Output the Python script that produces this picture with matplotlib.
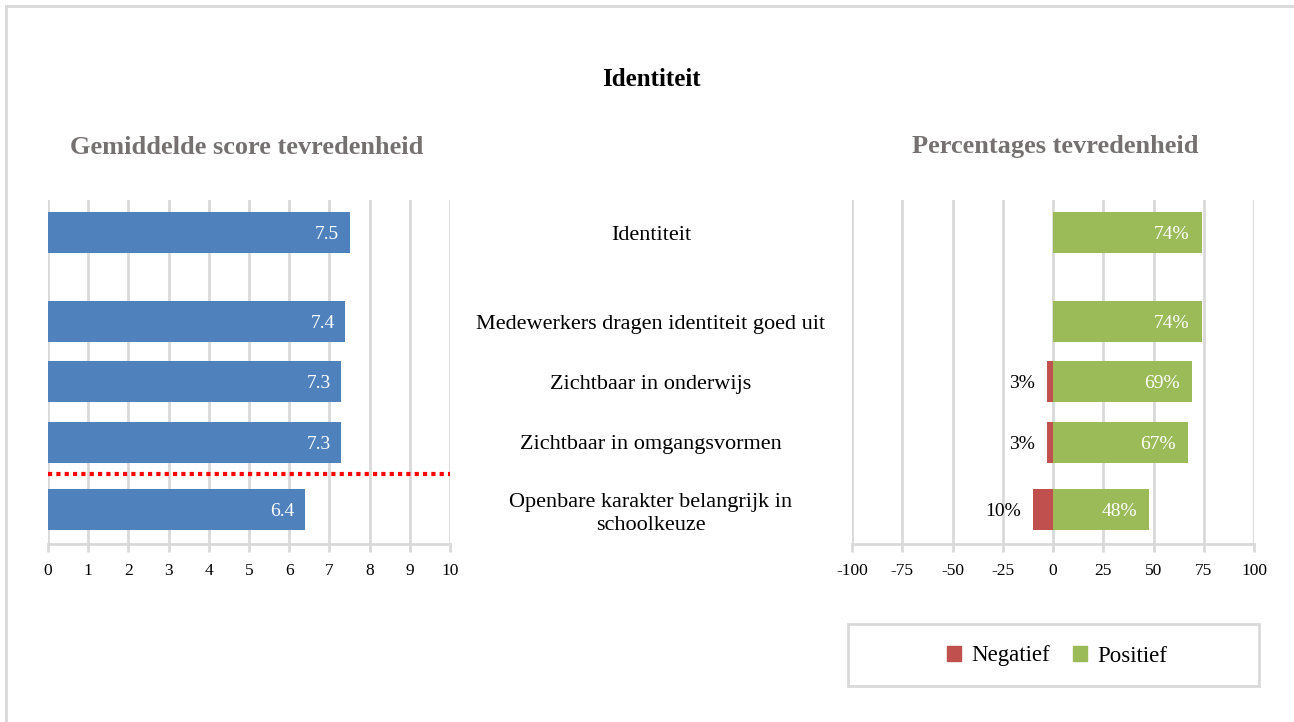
import matplotlib
matplotlib.use("Agg")
import matplotlib.pyplot as plt
from matplotlib.lines import Line2D
from matplotlib.patches import Patch, Rectangle
import matplotlib.transforms as mtransforms

plt.rcParams['font.family'] = ['Liberation Serif', 'DejaVu Serif']

# data
categories = ["Identiteit",
              "Medewerkers dragen identiteit goed uit",
              "Zichtbaar in onderwijs",
              "Zichtbaar in omgangsvormen",
              "Openbare karakter belangrijk in\nschoolkeuze"]
scores = [7.5, 7.4, 7.3, 7.3, 6.4]
score_labels = ["7.5", "7.4", "7.3", "7.3", "6.4"]
positief = [74, 74, 69, 67, 48]
negatief = [0, 0, 3, 3, 10]
score_ticks = list(range(0, 11))
pct_ticks = [-100, -75, -50, -25, 0, 25, 50, 75, 100]
pct_ticklabels = ["-100", "-75", "-50", "-25", "0", "25", "50", "75", "100"]

# layout (row centres in pixel units of the axes)
row_pos = [232.5, 321.5, 381.5, 442.5, 509.5]
bar_h = 41
ref_line_y = 474

blue = "#4f81bd"
green = "#9bbb59"
red = "#c0504d"
grid_c = "#d9d9d9"

W, H = 1294, 722
fig = plt.figure(figsize=(W / 100, H / 100), dpi=100)


def fx(px):
    return px / W


def fy(py):
    return 1 - py / H


ax1 = fig.add_axes([fx(48), fy(544), fx(402), 344 / H])
ax2 = fig.add_axes([fx(852), fy(544), fx(402), 344 / H])

for ax in (ax1, ax2):
    ax.set_ylim(544, 200)
    for s in ax.spines.values():
        s.set_visible(False)
    ax.spines['bottom'].set_visible(True)
    ax.spines['bottom'].set_color(grid_c)
    ax.spines['bottom'].set_linewidth(2)
    ax.set_yticks([])
    ax.tick_params(axis='x', length=6, width=2, color=grid_c, pad=8,
                   labelsize=12.5, labelcolor='black')
    ax.grid(axis='x', color=grid_c, linewidth=2)
    ax.set_axisbelow(True)

# left chart: gemiddelde scores
ax1.set_xlim(0, 10)
ax1.set_xticks(score_ticks)
ax1.barh(row_pos, scores, height=bar_h, color=blue, zorder=3)
for y, v, lab in zip(row_pos, scores, score_labels):
    ax1.text(v - 0.27, y, lab, color='white', fontsize=14,
             ha='right', va='center_baseline', zorder=4)
ax1.plot([0, 10], [ref_line_y, ref_line_y], color='red', linestyle=(0, (1, 1)),
         linewidth=3, zorder=5, clip_on=False)

# right chart: percentages
ax2.set_xlim(-100, 100)
ax2.set_xticks(pct_ticks)
ax2.set_xticklabels(pct_ticklabels)
neg_vals = [-n for n in negatief]
ax2.barh(row_pos, neg_vals, height=bar_h, color=red, zorder=3)
ax2.barh(row_pos, positief, height=bar_h, color=green, zorder=3)
for y, p, n in zip(row_pos, positief, negatief):
    ax2.text(p - 6, y, f"{p}%", color='white', fontsize=14,
             ha='right', va='center_baseline', zorder=4)
    if n > 0:
        ax2.text(-n - 6, y, f"{n}%", color='black', fontsize=14,
                 ha='right', va='center_baseline', zorder=4)

# category labels in the middle
trans = mtransforms.blended_transform_factory(fig.transFigure, ax1.transData)
for y, c in zip(row_pos, categories):
    ax1.text(fx(651), y, c, transform=trans, ha='center', va='center_baseline',
             fontsize=16, linespacing=1.3, clip_on=False)

# titles
fig.text(fx(651), fy(80), "Identiteit", ha='center', va='center',
         fontsize=18, fontweight='bold')
fig.text(fx(247), fy(147), "Gemiddelde score tevredenheid", ha='center',
         va='center', fontsize=19, fontweight='bold', color='#767171')
fig.text(fx(1055), fy(147), "Percentages tevredenheid", ha='center',
         va='center', fontsize=19, fontweight='bold', color='#767171')

# legend with its own box
fig.add_artist(Rectangle((fx(848), fy(686)), fx(411), 62 / H,
                         transform=fig.transFigure, facecolor='none',
                         edgecolor=grid_c, linewidth=2))
handles = [Patch(color=red, label="Negatief"), Patch(color=green, label="Positief")]
fig.legend(handles=handles, loc='center',
           bbox_to_anchor=(fx(1057), fy(656)), ncol=2, fontsize=16.5,
           frameon=False, handlelength=0.6, handleheight=0.6,
           handletextpad=0.45, columnspacing=1.0)

# outer border
fig.add_artist(Line2D([fx(6), 1], [fy(6), fy(6)], color=grid_c, linewidth=2))
fig.add_artist(Line2D([fx(6), fx(6)], [fy(6), 0], color=grid_c, linewidth=2))

fig.savefig("out.png", dpi=100)
